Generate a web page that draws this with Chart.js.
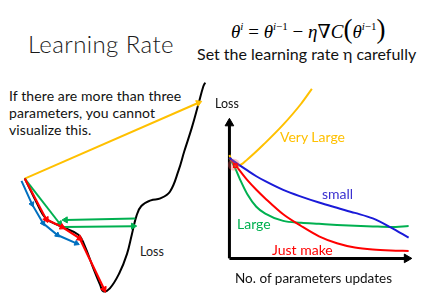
<!DOCTYPE html>
<html>
<head>
<meta charset="utf-8">
<script src="https://cdn.jsdelivr.net/npm/chart.js@4.4.0/dist/chart.umd.min.js"></script>
<style>
body { margin: 0; width: 425px; height: 300px; background: #fff; position: relative; overflow: hidden; font-family: Lato, "Open Sans", sans-serif; }
.t { position: absolute; white-space: nowrap; line-height: 1; }
canvas { position: absolute; }
#formula { font-family: "Liberation Serif", "DejaVu Serif", serif; font-size: 19px; }
#formula sup { font-size: 11px; vertical-align: 8px; }
#formula .p { font-size: 27px; font-style: normal; }
</style>
</head>
<body>
<div class="t" style="left:28px;top:32px;font-size:24px;font-weight:300;letter-spacing:0.4px;color:#1a1a1a">Learning Rate</div>
<div class="t" id="formula" style="left:231px;top:16px"><i>θ</i><sup><i>i</i></sup> = <i>θ</i><sup><i>i</i>−1</sup> − <i>η</i>∇<i>C</i><span class="p">(</span><i>θ</i><sup><i>i</i>−1</sup><span class="p">)</span></div>
<div class="t" style="left:197px;top:46px;font-size:16px;color:#111">Set the learning rate η carefully</div>
<div class="t" style="left:9px;top:87px;font-size:14px;line-height:17px;letter-spacing:0.1px;color:#111">If there are more than three<br>parameters, you cannot<br>visualize this.</div>
<div class="t" style="left:140px;top:246px;font-size:12.5px;color:#222">Loss</div>

<canvas id="landscape" width="214" height="230" style="left:0;top:70px"></canvas>
<canvas id="curves" width="211" height="192" style="left:214px;top:78px"></canvas>

<div class="t" style="left:215px;top:98px;font-size:12.5px;color:#111">Loss</div>
<div class="t" style="left:280px;top:130px;font-size:14px;color:#FFC000">Very Large</div>
<div class="t" style="left:322px;top:187px;font-size:14px;color:#3a2fd0">small</div>
<div class="t" style="left:237px;top:217px;font-size:14px;color:#00B050">Large</div>
<div class="t" style="left:272px;top:243px;font-size:14px;color:#FF0000">Just make</div>
<div class="t" style="left:235px;top:272px;font-size:13.5px;color:#111">No. of parameters updates</div>

<script>
// right: loss vs number of updates, for each learning rate
var updates = [0, 3, 6, 10, 15, 20, 30, 40, 50, 60, 70, 80, 90, 100];
var smallLoss = [73, 70, 67.3, 63.8, 59.6, 56, 49.7, 44.8, 40.5, 36.7, 33, 29, 22.5, 15];
var justMakeLoss = [73, 68.2, 63.3, 56.8, 49.8, 43.5, 32, 23.5, 16, 11, 7.9, 6.4, 5.7, 5.4];
var largeLoss = [73, 66, 57, 46.5, 37.5, 32.5, 27.2, 25.9, 25.1, 24.3, 23.7, 23.2, 22.8, 23.5];
var veryLargeUpdates = [0, 2, 5, 10, 20, 30, 40, 46];
var veryLargeLoss = [75, 69, 67.3, 71.8, 83.8, 97, 112.2, 123];

// left: loss surface over one parameter, with the steps taken
var paramW = [20.7, 33, 43, 58, 77, 83, 93, 100, 103, 110, 120, 128, 133, 138, 143, 153, 163, 173, 182, 188, 196, 203, 208, 210];
var surfaceLoss = [122, 97, 80, 72, 63, 53, 27, 10, 4, 7, 23, 43, 63, 83, 93, 99, 101, 108, 130, 150, 175, 200, 218, 222];
var justMakeW = [20.7, 43.3, 60, 78.3, 104];
var justMakeStep = [121.7, 79, 71, 59.3, 6];
var smallW = [17.3, 28.3, 40, 55, 75];
var smallStep = [119.3, 95, 75, 62.7, 54];
var largeW1 = [20.7, 57.5], largeStep1 = [121.7, 74.5];
var largeW2 = [61, 134.5], largeStep2 = [71, 72];
var largeW3 = [136.7, 63.5], largeStep3 = [80, 78.5];
var veryLargeW = [20.7, 203], veryLargeStep = [121.7, 201];

function pts(xs, ys) {
    return xs.map(function (x, i) { return { x: x, y: ys[i] }; });
}

// triangle heads turned along the segment that ends at the point
function arrowRotation(ctx) {
    var i = ctx.dataIndex, d = ctx.dataset.data;
    if (i === 0) return 0;
    var sx = ctx.chart.scales.x, sy = ctx.chart.scales.y;
    var dx = sx.getPixelForValue(d[i].x) - sx.getPixelForValue(d[i - 1].x);
    var dy = sy.getPixelForValue(d[i].y) - sy.getPixelForValue(d[i - 1].y);
    return Math.atan2(dx, -dy) * 180 / Math.PI;
}

function arrow(xs, ys, color, width, head) {
    return {
        data: pts(xs, ys),
        showLine: true,
        borderColor: color,
        backgroundColor: color,
        borderWidth: width,
        tension: 0,
        pointStyle: 'triangle',
        pointRadius: xs.map(function (x, i) { return i === 0 ? 0 : head; }),
        pointBorderWidth: 1,
        pointRotation: arrowRotation
    };
}

function curve(xs, ys, color) {
    return {
        data: pts(xs, ys),
        showLine: true,
        borderColor: color,
        borderWidth: 2,
        pointRadius: 0,
        cubicInterpolationMode: 'monotone'
    };
}

function baseOptions(xmin, xmax, ymin, ymax) {
    return {
        responsive: false,
        animation: false,
        events: [],
        layout: { padding: 0 },
        plugins: { legend: { display: false }, tooltip: { enabled: false } },
        scales: {
            x: { type: 'linear', display: false, min: xmin, max: xmax },
            y: { type: 'linear', display: false, min: ymin, max: ymax }
        }
    };
}

new Chart(document.getElementById('landscape'), {
    type: 'scatter',
    data: {
        datasets: [
            arrow(justMakeW, justMakeStep, '#FF0000', 2.2, 3.5),
            arrow(smallW, smallStep, '#0070C0', 2, 3),
            arrow(largeW1, largeStep1, '#00B050', 2, 3.5),
            arrow(largeW2, largeStep2, '#00B050', 2, 3.5),
            arrow(largeW3, largeStep3, '#00B050', 2, 3.5),
            arrow(veryLargeW, veryLargeStep, '#FFC000', 2, 3.5),
            {
                data: pts(paramW, surfaceLoss),
                showLine: true,
                borderColor: '#000',
                borderWidth: 2,
                pointRadius: 0,
                tension: 0.4
            }
        ]
    },
    options: baseOptions(0, 214, 0, 230)
});

new Chart(document.getElementById('curves'), {
    type: 'scatter',
    data: {
        datasets: [
            {
                data: [{ x: 3.3, y: 67.3 }],
                pointStyle: 'rect',
                pointRadius: 2.5,
                borderColor: '#FF0000',
                backgroundColor: 'rgba(255,255,255,0)',
                pointBorderWidth: 1.2
            },
            {
                data: [{ x: 2.5, y: 68 }],
                pointRadius: 6,
                borderWidth: 0,
                backgroundColor: 'rgba(255,90,90,0.35)'
            },
            curve(updates, smallLoss, '#1a1ad8'),
            curve(updates, justMakeLoss, '#FF0000'),
            curve(updates, largeLoss, '#00B050'),
            curve(veryLargeUpdates, veryLargeLoss, '#FFC000'),
            arrow([0, 0], [0, 98], '#000', 3, 5),
            arrow([0, 99], [0, 0], '#000', 3, 5)
        ]
    },
    options: baseOptions(-5.263, 105.79, -4.08, 126.53)
});
</script>
</body>
</html>
